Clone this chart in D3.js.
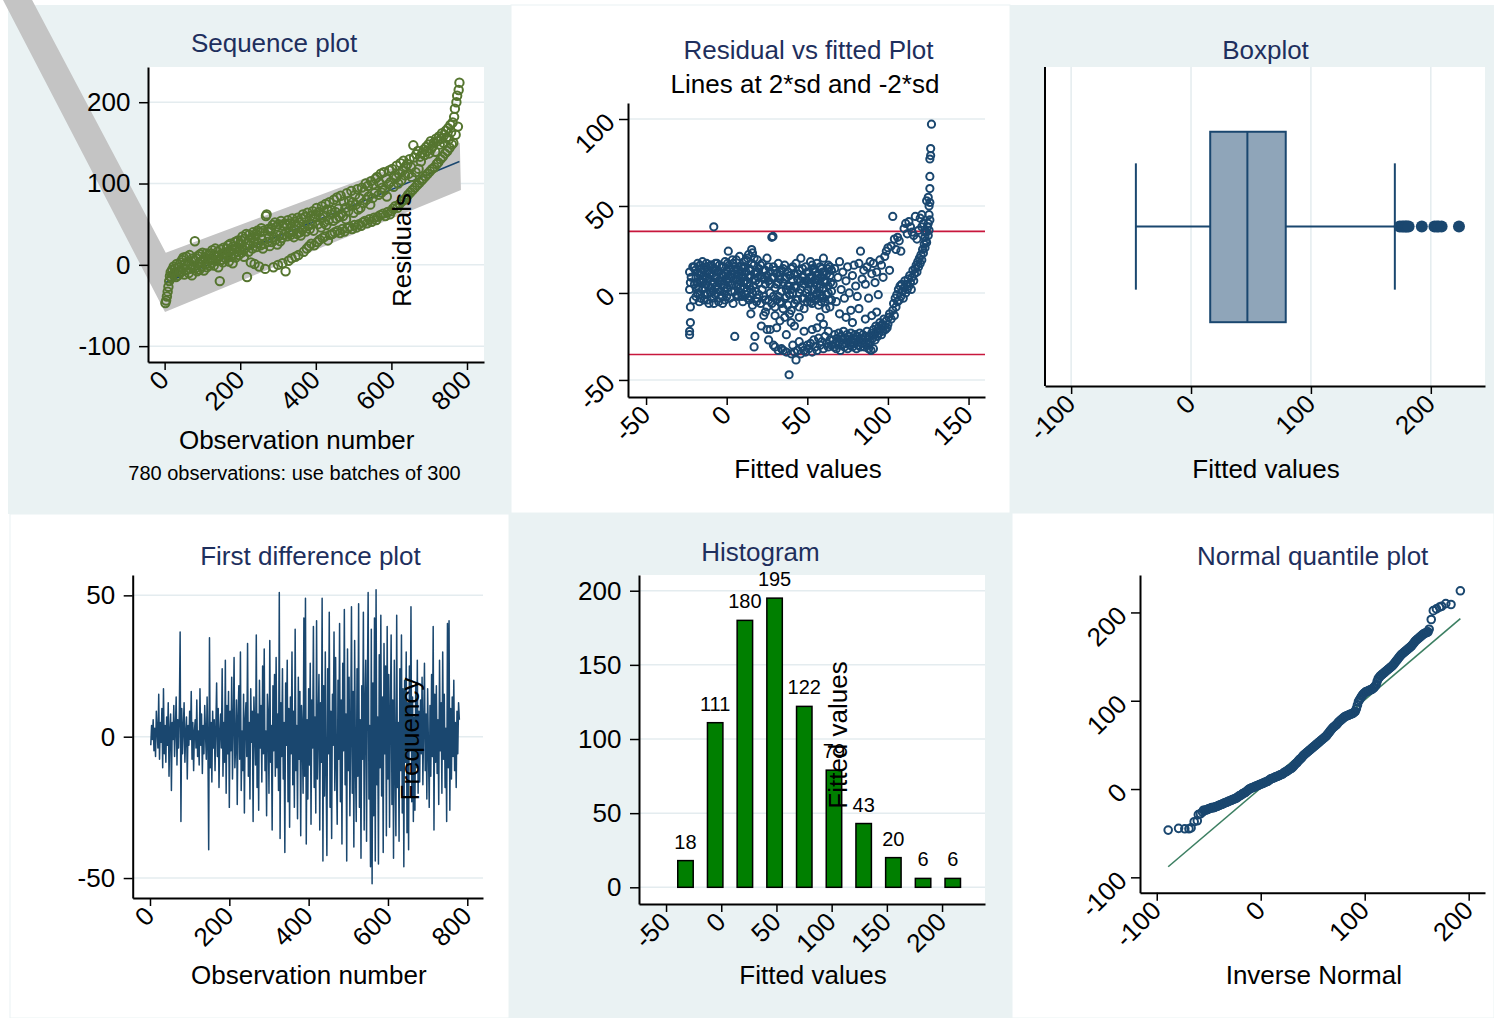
<!DOCTYPE html>
<html><head><meta charset="utf-8">
<script src="https://cdn.jsdelivr.net/npm/d3@7"></script>
<style>
html,body{margin:0;padding:0;background:#fff}
svg text{font-family:"Liberation Sans",Arial,Helvetica,sans-serif}
</style></head><body>
<svg id="chart" width="1494" height="1018"></svg>
<script>
// ---------------- data ----------------
// Sequence plot: fitted values for every second observation (obs 2, 4, ..., 780)
const seqStep = 2;
const seqValues = [
 -47,-44,-39,-33,-27,-20,-14,-9,-16,-6,-12,-2,-10,-4,-15,1,-8,-13,-3,-9,
 3,-9,6,-4,9,-12,1,-6,10,-1,4,-10,12,-5,0,-13,8,-3,5,29,
 -4,8,-8,11,2,-6,13,4,-2,15,6,-7,9,1,14,-3,8,12,-1,6,
 14,2,18,7,-1,12,20,5,10,16,-3,11,-20,19,6,13,3,21,9,15,
 8,20,12,24,4,17,26,10,19,2,23,14,28,9,21,16,30,12,25,18,
 30,15,35,18,10,32,21,38,-15,26,16,37,24,3,33,20,40,27,1,35,
 38,22,42,27,-2,40,24,45,31,20,42,26,-5,60,62,28,44,33,23,41,
 45,28,49,-3,34,52,31,47,25,0,50,36,29,54,33,2,48,37,51,-8,
 49,35,55,5,39,51,37,8,57,41,34,53,10,47,38,58,12,52,40,36,
 57,43,62,16,47,59,41,20,64,48,23,44,60,26,50,66,42,24,58,62,
 70,28,50,65,31,58,46,72,33,61,52,35,75,49,68,30,55,77,37,62,
 67,38,54,80,40,65,57,83,42,69,59,39,85,63,44,60,78,41,70,56,
 88,45,66,79,47,73,91,44,77,64,49,86,74,46,93,68,50,82,70,48,
 95,52,76,90,54,100,80,51,97,84,56,74,103,53,82,99,58,88,106,55,
 108,59,86,101,61,112,89,95,63,114,92,60,106,84,65,99,116,62,102,66,
 118,69,96,110,72,107,122,70,100,112,75,125,104,78,116,128,80,110,121,83,
 124,86,112,130,89,120,108,92,147,132,95,114,136,98,140,118,101,133,127,104,
 138,106,142,135,109,145,140,112,148,137,115,152,143,118,146,150,120,139,155,124,
 152,126,158,148,130,155,162,133,150,160,137,165,157,140,168,154,144,172,163,148,
 175,150,182,192,160,200,208,170,215,224
];
// Linear fit through the sequence and its shaded band (obs, value)
const seqFitObs = [1, 780];
const seqFitVal = [-22, 127];
const bandUpper = [[-351, 326], [3, 15], [781, 150]];
const bandLower = [[-428, 326], [1, -58], [784, 92]];

// Residual vs fitted: [fitted, residual]
const resPoints = [
 [-23,-24],[-23,-22],[-22.5,-17],[-22.5,-8],[-23,2],[-22.5,6],[-23,12],
 [-20,5],[-20,15],[-19,-2],[-19,9],[-18,17],[-18,0],[-17,11],[-17,-5],[-16,7],[-16,14],[-15,2],[-15,18],[-14,-4],[-14,10],
 [-13,5],[-13,15],[-12,0],[-12,12],[-11,-6],[-11,8],[-10,16],[-10,3],[-9,-3],[-9,11],[-8,6],[-8,38],[-8,14],[-7,-1],[-7,9],
 [-6,17],[-6,4],[-5,-5],[-5,12],[-4,7],[-4,1],[-3,15],[-3,-2],[-2,10],[-2,5],[-1,18],[-1,-4],[0,8],[0,13],
 [-19.5,13],[-18.5,6],[-17.5,3],[-16.5,-1],[-15.5,12],[-14.5,8],[-13.5,-1],[-12.5,17],[-11.5,4],[-10.5,11],
 [-9.5,7],[-8.5,1],[-7.5,13],[-6.5,9],[-5.5,2],[-4.5,16],[-3.5,11],[-2.5,-6],[-1.5,3],[-0.5,11],
 [-22,9],[-21,15],[-20.5,-4],[-19,3],[-18,12],[-17,7],[-16.5,16],[-16,-3],[-15,6],[-14,14],[-13.5,3],[-12.5,8],[-12,-4],
 [-11,13],[-10,0],[-9.5,16],[-9,5],[-8,-6],[-7,17],[-6.5,0],[-6,12],[-5,7],[-4,-3],[-3.5,5],[-3,10],[-2,15],[-1,1],[0,-2],[0.5,17],
 [1,24],[1,6],[2,-3],[2,14],[3,9],[3,1],[4,17],[4,-6],[5,-25],[5,11],[6,4],[6,19],[7,-2],[7,13],[8,7],[8,21],[9,0],[9,15],
 [10,9],[10,-5],[11,18],[11,3],[12,12],[12,-1],[13,20],[13,6],[14,-4],[14,14],[15,10],[15,2],[16,23],[16,-7],[17,8],[17,16],
 [18,1],[18,12],[19,-3],[19,19],[20,6],[20,14],[21,-6],[21,10],[22,2],[22,17],[23,8],[23,-2],[24,13],[24,5],[25,-8],[25,20],
 [0.5,3],[1.5,16],[2.5,11],[3.5,5],[4.5,13],[5.5,8],[6.5,-1],[7.5,10],[8.5,3],[9.5,12],[10.5,6],[11.5,15],[12.5,1],[13.5,9],
 [14.5,-2],[15.5,17],[16.5,4],[17.5,11],[18.5,-5],[19.5,9],[13.5,22],[15.5,25],
 [2,8],[3.5,19],[5,1],[6,14],[7,5],[8.5,12],[9.5,-2],[10.5,15],[11.5,7],[12,19],[13,-3],[14,4],[15,13],[16,0],[17,20],
 [18,7],[19,12],[20,-1],[21,16],[22,9],[23,13],[24,-4],[25,10],
 [15,-12],[17,-31],[17.5,-25],[21.5,-19],[23,-13],[25,-21],[24,-11],
 [26,7],[26,-4],[27,12],[27,0],[28,32],[28.7,32.5],[28,-6],[29,9],[29,15],[30,3],[30,-8],[31,11],[31,5],[32,-2],[32,17],
 [33,8],[33,-5],[34,13],[34,1],[35,-9],[35,6],[36,16],[36,-3],[37,9],[37,2],[38,-7],[38,12],[39,4],[39,-1],[40,14],[40,-10],
 [41,7],[41,0],[42,-6],[42,11],[43,3],[43,17],[44,-4],[44,8],[45,-8],[45,13],[46,2],[46,20],[47,-3],[47,9],[48,5],[48,-9],
 [49,15],[49,0],[50,7],[50,-5],
 [26,15],[27,5],[28,9],[29,-2],[30,13],[31,-4],[32,6],[33,12],[34,-6],[35,14],[36,8],[37,-2],[38,4],[39,10],[40,2],
 [41,15],[42,4],[43,-4],[44,11],[45,0],[46,7],[47,14],[48,-3],[49,7],[50,12],
 [26,-27],[27,-21],[29,-30],[30,-31],[32,-33],[34,-32],[35,-33],[37,-34],[38.7,-47],[40,-35],[41,-30],[42,-34],[43,-38.5],
 [44,-33],[45,-28],[46,-35],[47,-31],[48,-33],[49,-34],[50,-30],
 [30,-13],[33,-16],[36,-14],[39,-12],[42,-19],[45,-14],[48,-22],[31,-20],[37,-24],[40,-17],
 [51,12],[51,-2],[52,6],[52,18],[53,-6],[53,9],[54,2],[54,14],[55,-4],[55,8],[56,17],[56,0],[57,11],[57,-7],[58,5],[58,15],
 [59,-2],[59,9],[60,20],[60,3],[61,-5],[61,12],[62,7],[62,-1],[63,16],[63,4],[64,-8],[64,10],[65,1],[65,13],
 [50.5,2],[51.5,9],[52.5,-3],[53.5,13],[54.5,6],[55.5,-1],[56.5,10],[57.5,3],[58.5,-5],[59.5,12],[60.5,7],[61.5,-9],
 [62.5,14],[63.5,-4],[64.5,6],
 [51,5],[52,-5],[53,16],[54,-2],[55,12],[56,4],[57,8],[58,-1],[59,14],[60,-3],[61,6],[62,11],[63,0],[64,15],[65,-4],
 [51,-32],[52,-29],[53,-34],[54,-27],[55,-31],[56,-33],[57,-26],[58,-30],[59,-28],[60,-32],[61,-25],[62,-29],[63,-31],
 [64,-27],[65,-30],[56,-20],[60,-18],[63,-22],[58,-14],[53,-21],
 [66,5],[67,14],[68,-5],[69,9],[70,18],[71,2],[72,12],[73,-3],[74,7],[75,15],[76,0],[77,-10],[78,10],[79,16],[80,4],
 [81,-2],[82,17],[83,24],[84,8],[85,13],[86,5],[87,15],[88,-3],[89,18],[90,11],[91,17],[92,6],[93,12],[94,-1],[95,19],
 [96,16],[97,9],[98,21],[99,24],[100,26],[101,13],[102,27],[103,44],[104,31],[105,25],
 [70,-12],[74,-14],[78,-17],[82,-9],[86,-15],[90,-13],[93,-11],[96,-19],
 [66,-27],[66.5,-31],[67,-24],[67.5,-29],[68,-32],[68.5,-26],[69,-30],[69.5,-23],[70,-28],[70.5,-33],[71,-25],[71.5,-30],
 [72,-27],[72.5,-22],[73,-31],[73.5,-26],[74,-29],[74.5,-24],[75,-32],[75.5,-27],[76,-25],[76.5,-30],[77,-23],[77.5,-28],
 [78,-31],[78.5,-26],[79,-29],[79.5,-24],[80,-27],[80.5,-32],[81,-25],[81.5,-30],[82,-28],[82.5,-23],[83,-31],[83.5,-26],
 [84,-29],[84.5,-24],[85,-27],[85.5,-31],[86,-25],[86.5,-29],[87,-22],[87.5,-27],[88,-30],[88.5,-25],[89,-28],[89.5,-33],
 [90,-23],[90.5,-26],[91,-21],[91.5,-24],[92,-27],[92.5,-19],[93,-22],[93.5,-25],[94,-20],[94.5,-23],[95,-17],[95.5,-21],
 [96,-24],[96.5,-18],[97,-22],[97.5,-15],[98,-19],[98.5,-21],[99,-16],[99.5,-20],[100,-18],[100.5,-14],[88,-32],[91,-32],
 [101,-12],[102,-15],[103,-10],[103.5,-6],[104,-13],[104.5,-3],[105,-8],[105.5,-1],[106,-5],[106.5,2],[107,-4],[107.5,4],
 [108,-2],[108.5,5],[109,1],[109.5,-3],[110,3],[110.5,7],[111,0],[111.5,5],[112,2],[112.5,8],[113,4],[113.5,10],[114,6],
 [114.5,2],[115,9],[115.5,13],[116,7],[116.5,11],[117,14],[117.5,16],[118,12],[118.5,18],[119,15],[119.5,20],[120,17],
 [120.5,22],[121,19],[121.5,25],[122,23],[122.5,28],[123,26],[123,32],[123.5,30],[124,35],[124,29],[124.5,38],[125,33],
 [125,40],[125.5,36],[125.5,45],[126,42],[126,52],[125,55],[124,53],[125.5,50],[126,60],[126,67],[126,77],[126.5,79],
 [126.5,83],[127,97],
 [106,32],[107,30],[108,24],[110,37],[111,40],[112,34],[113,41],[114,38],[115,35],[116,33],[117,44],[118,31],[119,36],
 [120,43],[121,38],[122,40],[123,35],[121,45]
];
const sdBand = 35.4;   // 2*sd of the residuals

// Boxplot summary of fitted values
const boxLowWhisker = -46, boxQ1 = 16, boxMedian = 47, boxQ3 = 79, boxHighWhisker = 170;
const boxOutliers = [174,176,177.5,179,180,181.5,192.5,203,205,206.5,209,223.5];

// First difference series (obs 2, 4, ..., 780)
const diffStep = 2;
const diffValues = [
 -3,4,-1,6,-5,3,-7,9,2,-4,15,-8,5,-2,10,-11,17,-6,4,-9,
 7,-3,12,-14,2,8,-19,5,-1,11,-7,3,14,-10,6,-4,9,37,-30,10,
 -6,3,12,-9,1,7,-15,4,-3,9,-1,16,-8,5,-12,2,6,-4,13,-7,
 2,-10,17,-3,8,-13,4,-6,11,1,-8,14,-2,-40,35,-11,5,-16,9,-4,
 6,-12,3,19,-7,10,-18,2,8,-4,24,-14,5,-9,27,-20,11,-6,16,-25,
 9,-5,21,-15,4,28,-11,-3,13,-24,7,18,-8,30,-19,2,-12,15,-27,6,
 12,-7,33,-14,5,-22,17,-2,9,-30,14,3,-10,36,-18,8,-26,20,-4,11,
 -16,25,-6,31,-12,2,-28,15,7,-20,34,-9,4,-33,18,-5,22,-14,28,-11,
 8,-19,51,-36,12,-7,24,-15,5,-41,19,-3,27,-23,10,-32,14,-6,30,-17,
 9,-25,38,-12,4,-29,21,-8,16,-35,11,2,-20,42,-14,49,-38,6,-22,17,
 -10,26,-31,13,-4,39,-18,7,-27,41,-15,3,22,-33,12,-9,49,-44,18,-21,
 30,-12,-42,24,-6,44,-25,9,-36,15,-3,37,-19,28,-10,-31,20,-8,40,-23,
 13,-38,26,-5,45,-17,8,-44,31,-12,21,-28,2,46,-20,16,-39,34,-9,-30,
 24,-14,47,-25,6,-43,18,-8,44,-33,11,27,-37,15,51,-22,4,-46,38,-52,
 19,-28,42,-44,52,-17,7,-45,29,-11,43,-21,14,-41,33,-6,25,-35,39,-15,
 22,-32,8,36,-24,13,-43,27,-10,-35,43,-18,5,-37,24,-12,36,-27,17,-46,
 20,-9,30,-34,12,-40,25,-5,46,-23,14,-30,7,-26,19,-11,27,-20,9,-16,
 13,-6,21,-17,4,26,-12,8,-22,17,-3,-25,11,-14,22,-7,39,-33,15,-9,
 18,-13,6,-24,27,-5,12,-20,30,-8,15,-18,3,-30,40,-11,41,-26,10,-15,
 14,-7,20,-12,5,-18,9,-6,12,6
];

// Histogram of fitted values
const histBinCenters = [-32.4,-5.5,21.4,48.3,75.2,102.1,129,155.9,182.8,209.7];
const histCounts = [18,111,180,195,122,79,43,20,6,6];

// Normal quantile plot: [inverse normal, fitted value]
const qqPoints = [
 [-89,-46.5],[-79,-44.5],[-73,-45],[-69,-45],[-67,-44],[-64,-37],[-61,-36],[-60,-29],[-58,-28],[-56,-26],[-55,-24],
 [-53,-24],[-51,-23],[-49,-22],[-47,-21],[-45,-21],[-43,-20],[-41,-19],[-39,-18],[-37,-17],[-35,-16],[-33,-15],
 [-31,-14],[-29,-13],[-27,-12],[-25,-11],[-23,-10],[-21,-8],[-19,-7],[-17,-5],[-15,-4],[-13,-2],[-11,0],[-9,1],
 [-7,2],[-5,3],[-3,4],[-1,5],[1,6],[3,7],[5,8],[7,9],[9,11],[11,12],[13,13],[15,14],[17,15],[19,16],[21,17],
 [23,19],[25,20],[27,22],[29,23],[31,25],[33,28],[35,30],[37,33],[39,35],[41,38],[43,40],[45,42],[47,44],[49,46],
 [51,48],[53,50],[55,52],[57,54],[59,56],[61,58],[63,60],[65,63],[67,66],[69,69],[71,71],[73,73],[75,76],[77,78],
 [79,80],[81,82],[83,83],[85,84],[87,85],[89,86],[91,88],[92,91],[93,95],[94,99],[95,101],[97,105],[99,108],
 [101,110],[103,111],[105,112],[107,113],[109,115],[111,118],[112,122],[113,125],[115,128],[117,130],[119,132],
 [121,134],[123,136],[125,138],[127,140],[129,143],[131,146],[133,149],[135,152],[137,154],[139,156],[141,158],
 [143,160],[145,162],[147,165],[149,168],[151,170],[153,172],[155,174],[157,176],[159,177],[161,178],[162,181],
 [164,192],[166,202],[169,204],[172,206],[174,207],[178,210],[183,209],[192,224.5],
 [-54,-24],[-52,-23.5],[-50,-22.5],[-48,-21.5],[-46,-21],[-44,-20.5],[-42,-19.5],[-40,-18.5],[-38,-17.5],[-36,-16.5],
 [-34,-15.5],[-32,-14.5],[-30,-13.5],[-28,-12.5],[-26,-11.5],[-24,-10.5],[-22,-9],[-20,-7.5],[-18,-6],[-16,-4.5],
 [-14,-3],[-12,-1],[-10,0.5],[-8,1.5],[-6,2.5],[-4,3.5],[-2,4.5],[0,5.5],[2,6.5],[4,7.5],[6,8.5],[8,10],[10,11.5],
 [12,12.5],[14,13.5],[16,14.5],[18,15.5],[20,16.5],[22,18],[24,19.5],[26,21],[28,22.5],[30,24],[32,26.5],[34,29],
 [36,31.5],[38,34],[40,36.5],[42,39],[44,41],[46,43],[48,45],[50,47],[52,49],[54,51],[56,53],[58,55],[60,57],[62,59],
 [64,61.5],[66,64.5],[68,67.5],[70,70],[72,72],[74,74.5],[76,77],[78,79],[80,81],[82,82.5],[84,83.5],[86,84.5],
 [88,85.5],[90,87],[96,103],[98,106.5],[100,109],[102,110.5],[104,111.5],[106,112.5],[108,114],[110,116.5],
 [114,126.5],[116,129],[118,131],[120,133],[122,135],[124,137],[126,139],[128,141.5],[130,144.5],[132,147.5],
 [134,150.5],[136,153],[138,155],[140,157],[142,159],[144,161],[146,163.5],[148,166.5],[150,169],[152,171],
 [154,173],[156,175],[158,176.5],[160,177.5]
];
const qqLine = [[-89,-88],[192,193]];

// tick values
const seqXTicks = [0,200,400,600,800], seqYTicks = [-100,0,100,200];
const resXTicks = [-50,0,50,100,150], resYTicks = [-50,0,50,100];
const boxXTicks = [-100,0,100,200];
const diffXTicks = [0,200,400,600,800], diffYTicks = [-50,0,50];
const histXTicks = [-50,0,50,100,150,200], histYTicks = [0,50,100,150,200];
const qqXTicks = [-100,0,100,200], qqYTicks = [-100,0,100,200];

// ---------------- drawing ----------------
const svg = d3.select('#chart');
const BG = '#eaf2f3', NAVY = '#1a476f', TITLE_C = '#1e2f5d', GRID = '#e4ecef';
const SEQ_GREEN = '#55752f';

function rect(x, y, w, h, fill, stroke) {
  svg.append('rect').attr('x', x).attr('y', y).attr('width', w).attr('height', h)
    .attr('fill', fill).attr('stroke', stroke || 'none').attr('stroke-width', 1);
}
function label(x, y, str, size, color, rot) {
  const t = svg.append('text').attr('text-anchor', 'middle').attr('font-size', size)
    .attr('fill', color || '#000').text(str);
  if (rot) t.attr('transform', `translate(${x},${y}) rotate(${rot})`);
  else t.attr('x', x).attr('y', y);
  return t;
}
function styleAxis(a) {
  a.attr('font-family', null).attr('font-size', null);
  a.select('.domain').attr('stroke', '#000').attr('stroke-width', 2);
  a.selectAll('.tick line').attr('stroke', '#000').attr('stroke-width', 1.5);
  a.selectAll('.tick text').attr('fill', '#000').attr('font-size', 26);
}
function xAxis(x, y0, ticks) {
  const a = svg.append('g').attr('transform', `translate(0,${y0})`)
    .call(d3.axisBottom(x).tickValues(ticks).tickSize(8).tickSizeOuter(0).tickFormat(d => String(d)));
  styleAxis(a);
  a.selectAll('.tick text').attr('y', null).attr('dy', '0.35em').attr('text-anchor', 'end')
    .attr('transform', 'translate(-1,13) rotate(-45)');
}
function yAxis(y, x0, ticks, rotated) {
  const a = svg.append('g').attr('transform', `translate(${x0},0)`)
    .call(d3.axisLeft(y).tickValues(ticks).tickSize(9).tickPadding(8.5).tickSizeOuter(0).tickFormat(d => String(d)));
  styleAxis(a);
  if (rotated) {
    a.selectAll('.tick text').attr('x', null).attr('dy', '0.35em').attr('text-anchor', 'end')
      .attr('transform', 'translate(-18,-2) rotate(-45)');
  }
}
function hGrid(x, y, ticks) {
  svg.append('g').selectAll('line').data(ticks).join('line')
    .attr('x1', x.range()[0]).attr('x2', x.range()[1]).attr('y1', d => y(d)).attr('y2', d => y(d))
    .attr('stroke', GRID).attr('stroke-width', 1.5);
}

// panel backgrounds
rect(8, 5, 503, 509, BG);
rect(511, 5, 499, 508, '#fff', BG);
rect(1010, 5, 484, 509, BG);
rect(10, 514, 499, 504, '#fff', BG);
rect(509, 513, 503, 505, BG);
rect(1012, 513, 482, 505, '#fff', BG);

// ===== Sequence plot =====
{
  const x = d3.scaleLinear().domain([-44, 845]).range([148, 484]);
  const y = d3.scaleLinear().domain([243.3, -119.5]).range([67, 362]);
  rect(148, 67, 336, 295, '#fff');
  hGrid(x, y, seqYTicks);
  const band = bandUpper.concat(bandLower.slice().reverse());
  svg.append('path').datum(band)
    .attr('d', d3.line().x(d => x(d[0])).y(d => y(d[1])))
    .attr('fill', '#c4c4c4').attr('stroke', 'none');
  svg.append('path').datum(seqFitObs.map((o, i) => [o, seqFitVal[i]]))
    .attr('d', d3.line().x(d => x(d[0])).y(d => y(d[1])))
    .attr('fill', 'none').attr('stroke', NAVY).attr('stroke-width', 1.5);
  svg.append('g').selectAll('circle').data(seqValues).join('circle')
    .attr('cx', (d, i) => x(seqStep * (i + 1))).attr('cy', d => y(d)).attr('r', 4.2)
    .attr('fill', 'none').attr('stroke', SEQ_GREEN).attr('stroke-width', 2);
  yAxis(y, 148, seqYTicks, false);
  xAxis(x, 362, seqXTicks);
  label(274, 51.5, 'Sequence plot', 26, TITLE_C);
  label(296.7, 449.3, 'Observation number', 26);
  label(294.5, 480, '780 observations: use batches of 300', 20);
  label(411, 250, 'Residuals', 26, '#000', -90);
}

// ===== Residual vs fitted =====
{
  const x = d3.scaleLinear().domain([-61.2, 160.2]).range([628, 985]);
  const y = d3.scaleLinear().domain([109.2, -59.8]).range([103, 397]);
  hGrid(x, y, resYTicks);
  svg.append('g').selectAll('line').data([sdBand, -sdBand]).join('line')
    .attr('x1', 628).attr('x2', 985).attr('y1', d => y(d)).attr('y2', d => y(d))
    .attr('stroke', '#c8173c').attr('stroke-width', 1.6);
  svg.append('g').selectAll('circle').data(resPoints).join('circle')
    .attr('cx', d => x(d[0])).attr('cy', d => y(d[1])).attr('r', 3.6)
    .attr('fill', 'none').attr('stroke', NAVY).attr('stroke-width', 2);
  yAxis(y, 628, resYTicks, true);
  xAxis(x, 397, resXTicks);
  label(808.5, 59.3, 'Residual vs fitted Plot', 26, TITLE_C);
  label(805, 92.7, 'Lines at 2*sd and -2*sd', 26);
  label(808, 477.7, 'Fitted values', 26);
}

// ===== Boxplot =====
{
  const x = d3.scaleLinear().domain([-121.8, 245.2]).range([1045, 1485]);
  const y = d3.scaleLinear().domain([0, 1]).range([386, 67]);
  rect(1045, 67, 440, 319, '#fff');
  svg.append('g').selectAll('line').data(boxXTicks).join('line')
    .attr('x1', d => x(d)).attr('x2', d => x(d)).attr('y1', 67).attr('y2', 386)
    .attr('stroke', GRID).attr('stroke-width', 1.5);
  const g = svg.append('g').attr('stroke', NAVY).attr('stroke-width', 2);
  g.append('line').attr('x1', x(boxLowWhisker)).attr('x2', x(boxQ1)).attr('y1', y(0.5)).attr('y2', y(0.5));
  g.append('line').attr('x1', x(boxQ3)).attr('x2', x(boxHighWhisker)).attr('y1', y(0.5)).attr('y2', y(0.5));
  [boxLowWhisker, boxHighWhisker].forEach(v => g.append('line')
    .attr('x1', x(v)).attr('x2', x(v)).attr('y1', y(0.302)).attr('y2', y(0.698)));
  g.append('rect').attr('x', x(boxQ1)).attr('width', x(boxQ3) - x(boxQ1))
    .attr('y', y(0.797)).attr('height', y(0.2) - y(0.797)).attr('fill', '#8fa5b9');
  g.append('line').attr('x1', x(boxMedian)).attr('x2', x(boxMedian)).attr('y1', y(0.797)).attr('y2', y(0.2));
  svg.append('g').selectAll('circle').data(boxOutliers).join('circle')
    .attr('cx', d => x(d)).attr('cy', y(0.5)).attr('r', 6).attr('fill', NAVY);
  svg.append('line').attr('x1', 1045).attr('x2', 1045).attr('y1', 67).attr('y2', 386)
    .attr('stroke', '#000').attr('stroke-width', 2);
  xAxis(x, 386, boxXTicks);
  label(1265.5, 59.3, 'Boxplot', 26, TITLE_C);
  label(1266, 477.7, 'Fitted values', 26);
}

// ===== First difference plot =====
{
  const x = d3.scaleLinear().domain([-43.6, 839.6]).range([132.7, 483]);
  const y = d3.scaleLinear().domain([57.2, -57.06]).range([575, 898]);
  hGrid(x, y, diffYTicks);
  svg.append('path').datum(diffValues)
    .attr('d', d3.line().x((d, i) => x(diffStep * (i + 1))).y(d => y(d)))
    .attr('fill', 'none').attr('stroke', NAVY).attr('stroke-width', 1.5).attr('stroke-linejoin', 'round');
  yAxis(y, 132.7, diffYTicks, false);
  xAxis(x, 898, diffXTicks);
  label(310.5, 565, 'First difference plot', 26, TITLE_C);
  label(308.8, 984.3, 'Observation number', 26);
  label(418.6, 739, 'Frequency', 26, '#000', -90);
}

// ===== Histogram =====
{
  const x = d3.scaleLinear().domain([-74.5, 238.9]).range([639, 985]);
  const y = d3.scaleLinear().domain([210.6, -11.26]).range([575, 904]);
  rect(639, 575, 346, 329, '#fff');
  hGrid(x, y, histYTicks);
  const barW = 14;
  const bars = histBinCenters.map((c, i) => ({ c, n: histCounts[i] }));
  svg.append('g').selectAll('rect').data(bars).join('rect')
    .attr('x', d => x(d.c - barW / 2)).attr('width', d => x(d.c + barW / 2) - x(d.c - barW / 2))
    .attr('y', d => y(d.n)).attr('height', d => y(0) - y(d.n))
    .attr('fill', '#007f00').attr('stroke', '#000').attr('stroke-width', 1.5);
  svg.append('g').selectAll('text').data(bars).join('text')
    .attr('x', d => x(d.c)).attr('y', d => y(d.n) - 12).attr('text-anchor', 'middle')
    .attr('font-size', 20).attr('fill', '#000').text(d => d.n);
  yAxis(y, 639, histYTicks, false);
  xAxis(x, 904, histXTicks);
  label(760.5, 560.7, 'Histogram', 26, TITLE_C);
  label(813, 984.3, 'Fitted values', 26);
  label(847, 735, 'Fitted values', 26, '#000', -90);
}

// ===== Normal quantile plot =====
{
  const x = d3.scaleLinear().domain([-116.1, 215.7]).range([1140, 1485]);
  const y = d3.scaleLinear().domain([242.4, -117.4]).range([575, 892.7]);
  svg.append('path').datum(qqLine)
    .attr('d', d3.line().x(d => x(d[0])).y(d => y(d[1])))
    .attr('stroke', '#3c7f62').attr('stroke-width', 1.6).attr('fill', 'none');
  svg.append('g').selectAll('circle').data(qqPoints).join('circle')
    .attr('cx', d => x(d[0])).attr('cy', d => y(d[1])).attr('r', 3.8)
    .attr('fill', 'none').attr('stroke', NAVY).attr('stroke-width', 2);
  yAxis(y, 1140, qqYTicks, true);
  xAxis(x, 892.7, qqXTicks);
  label(1312.7, 565, 'Normal quantile plot', 26, TITLE_C);
  label(1313.8, 984.3, 'Inverse Normal', 26);
}
</script></body></html>
